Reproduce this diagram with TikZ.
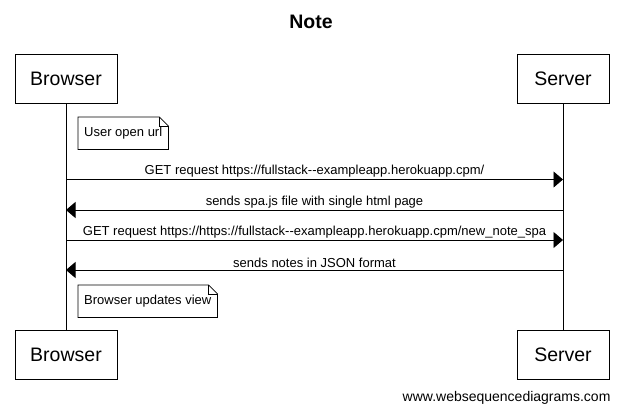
\documentclass[tikz,border=0pt]{standalone}
\usepackage{fontspec}
\setmainfont{Liberation Sans}
\usetikzlibrary{positioning,arrows.meta}

\begin{document}
\begin{tikzpicture}[
    x=1pt, y=-1pt,
    actor/.style={draw, minimum height=49pt, inner sep=0pt, font=\fontsize{19.5}{22}\selectfont},
    note/.style={anchor=north west, minimum height=32pt, inner xsep=6pt, inner ysep=0pt,
                 font=\fontsize{13}{15}\selectfont},
    msg/.style={-{Triangle[length=9.5pt,width=16pt]}, line width=0.9pt},
    lbl/.style={midway, above, inner sep=1.5pt, font=\fontsize{13}{15}\selectfont},
]
    \useasboundingbox (0,0) rectangle (622,413);

    % Title
    \node[font=\bfseries\fontsize{19.5}{22}\selectfont] (title) at (311,22) {Note};

    % Participants
    \node[actor, minimum width=102pt] (bro)  at (66,78.5)  {Browser};
    \node[actor, minimum width=92pt]  (srv)  at (563,78.5) {Server};
    \node[actor, minimum width=102pt] (bro2) at (66,354.5) {Browser};
    \node[actor, minimum width=92pt]  (srv2) at (563,354.5) {Server};

    % Lifelines
    \draw[line width=0.9pt] (bro.south) -- (bro2.north);
    \draw[line width=0.9pt] (srv.south) -- (srv2.north);

    % Notes
    \node[note] (n1) at (78,117) {User open url};
    \node[note] (n2) at (78,285) {Browser updates view};
    \foreach \n in {n1,n2} {
        \draw[line width=0.7pt] (\n.south west) -- (\n.north west) -- ([xshift=-9pt]\n.north east)
            -- ([yshift=-9pt]\n.north east) -- (\n.south east) -- cycle;
        \draw[line width=0.7pt] ([xshift=-9pt]\n.north east) |- ([yshift=-9pt]\n.north east);
    }

    % Message ends
    \coordinate (b1) at (bro.south |- 0,179.5);
    \coordinate (s1) at (srv.south |- 0,179.5);
    \coordinate (b2) at (bro.south |- 0,210);
    \coordinate (s2) at (srv.south |- 0,210);
    \coordinate (b3) at (bro.south |- 0,240);
    \coordinate (s3) at (srv.south |- 0,240);
    \coordinate (b4) at (bro.south |- 0,270);
    \coordinate (s4) at (srv.south |- 0,270);

    % Messages
    \draw[msg] (b1) -- (s1) node[lbl] {GET request https://fullstack-{}-exampleapp.herokuapp.cpm/};
    \draw[msg] (s2) -- (b2) node[lbl] {sends spa.js file with single html page};
    \draw[msg] (b3) -- (s3) node[lbl] {GET request https://https://fullstack-{}-exampleapp.herokuapp.cpm/new\_note\_spa};
    \draw[msg] (s4) -- (b4) node[lbl] {sends notes in JSON format};

    % Footer
    \node[anchor=east, font=\fontsize{14}{16}\selectfont] (wsd) at (614,398) {www.websequencediagrams.com};
\end{tikzpicture}
\end{document}
